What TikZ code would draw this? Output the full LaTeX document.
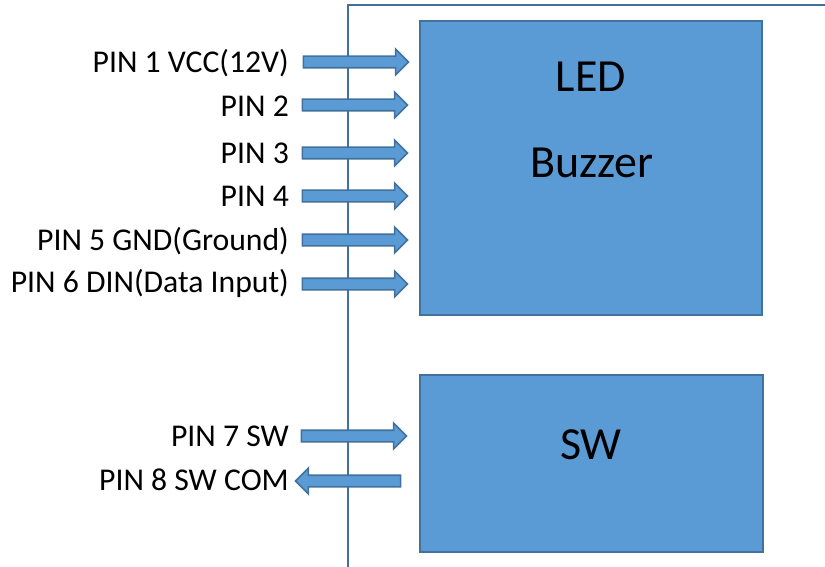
\documentclass[tikz,border=0pt]{standalone}
\usepackage{fontspec}
\setmainfont{Carlito}
\usetikzlibrary{shapes.arrows}
\definecolor{boxfill}{HTML}{5B9BD5}
\definecolor{boxline}{HTML}{41719C}
\tikzset{
  blockbox/.style={draw=boxline, fill=boxfill, line width=2.2pt, inner sep=0pt},
  framel/.style={draw=boxline, line width=2pt},
  pinarrow/.style={single arrow, draw=boxline, fill=boxfill, line width=1.6pt,
    inner xsep=0pt, inner ysep=5pt, single arrow head extend=7pt,
    single arrow tip angle=90, minimum height=105pt},
  pinlabel/.style={anchor=base east, inner sep=0pt, font=\fontsize{31.7}{36}\selectfont},
  bigtext/.style={anchor=base, inner sep=0pt, font=\fontsize{46}{52}\selectfont}
}
\begin{document}
\begin{tikzpicture}[x=1pt,y=-1pt]
\useasboundingbox (0,0) rectangle (825,567);
% frame
\coordinate (fb) at (348,567);
\coordinate (ft) at (348,5);
\coordinate (fr) at (825,5);
\draw[framel] (fb) -- (ft) -- (fr);
% boxes
\node[blockbox, minimum width=342pt, minimum height=294pt] (main) at (591,168) {};
\node[blockbox, minimum width=343pt, minimum height=177pt] (sw) at (591.5,463.5) {};
\node[bigtext] (tled) at (591,92) {LED};
\node[bigtext] (tbuz) at (592,178) {Buzzer};
\node[bigtext] (tsw) at (591,459) {SW};
% arrows
\node[pinarrow] (a1) at (353,62) {};
\node[pinarrow] (a2) at (352,105) {};
\node[pinarrow] (a3) at (352,153) {};
\node[pinarrow] (a4) at (352,196) {};
\node[pinarrow] (a5) at (352,240) {};
\node[pinarrow] (a6) at (352,284) {};
\node[pinarrow] (a7) at (351,436) {};
\node[pinarrow, shape border rotate=180] (a8) at (351,481) {};
% labels
\node[pinlabel] (l1) at (289,73) {PIN 1 VCC(12V)};
\node[pinlabel] (l2) at (289,117) {PIN 2};
\node[pinlabel] (l3) at (289,164) {PIN 3};
\node[pinlabel] (l4) at (289,207) {PIN 4};
\node[pinlabel] (l5) at (289,250) {PIN 5 GND(Ground)};
\node[pinlabel] (l6) at (289,292) {PIN 6 DIN(Data Input)};
\node[pinlabel] (l7) at (289,446) {PIN 7 SW};
\node[pinlabel] (l8) at (289,490) {PIN 8 SW COM};
\end{tikzpicture}
\end{document}
